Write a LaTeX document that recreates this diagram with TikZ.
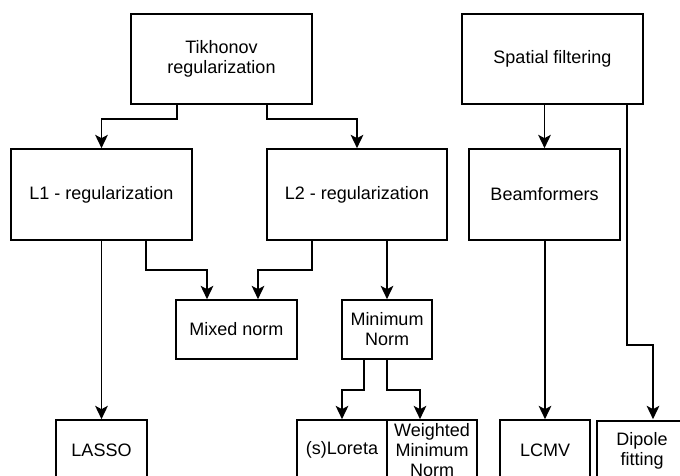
\documentclass[tikz,border=0pt]{standalone}
\usepackage{fontspec}
\setmainfont{Liberation Sans}
\usetikzlibrary{arrows.meta}
\begin{document}
\begin{tikzpicture}[x=0.75pt,y=-0.75pt,
  box/.style={draw=black,line width=1.25pt,fill=white,align=center,inner sep=0pt,
    font=\fontsize{13.5}{15}\selectfont},
  arr/.style={draw=black,line width=1.25pt,-{Stealth[length=10pt,width=9.5pt,inset=2.5pt]}}]
\useasboundingbox (0,0) rectangle (680,475);
\clip (0,0) rectangle (680,475);
% nodes
\node[box,minimum width=135.75pt,minimum height=67.5pt] (tik) at (221.5,59) {Tikhonov\\regularization};
\node[box,minimum width=135.75pt,minimum height=67.5pt] (sf) at (552.5,59) {Spatial filtering};
\node[box,minimum width=135.75pt,minimum height=68.25pt] (l1) at (101.5,194.5) {L1 - regularization};
\node[box,minimum width=135pt,minimum height=68.25pt] (l2) at (357,194.5) {L2 - regularization};
\node[box,minimum width=113.25pt,minimum height=68.25pt] (bf) at (544.5,194.5) {Beamformers};
\node[box,minimum width=90.75pt,minimum height=44.25pt] (mx) at (236.5,329.5) {Mixed norm};
\node[box,minimum width=67.5pt,minimum height=44.25pt] (mn) at (387,329.5) {Minimum\\Norm};
\node[box,minimum width=68.25pt,minimum height=45pt] (la) at (101.5,450) {LASSO};
\node[box,minimum width=67.5pt,minimum height=45pt] (sl) at (342,450) {(s)Loreta};
\node[box,minimum width=67.5pt,minimum height=45pt] (wm) at (432,450) {Weighted\\Minimum\\Norm};
\node[box,minimum width=67.5pt,minimum height=45pt] (lc) at (545,450) {LCMV};
\node[box,minimum width=67.5pt,minimum height=45pt] (dp) at (642,451) {Dipole\\fitting};
% helper coordinates
\coordinate (a1) at (177,119);
\coordinate (a2) at (267,119);
\coordinate (m1) at (146,270);
\coordinate (m2) at (207,270);
\coordinate (m3) at (312,270);
\coordinate (m4) at (258,270);
\coordinate (s1) at (364,390);
\coordinate (s2) at (420,390);
\coordinate (d1) at (627,345);
\coordinate (d2) at (653,345);
% connectors
\draw[arr] (tik.south -| a1) -- (a1) -| (l1.north);
\draw[arr] (tik.south -| a2) -- (a2) -| (l2.north);
\draw[arr] (sf.south -| bf.north) -- (bf.north);
\draw[arr] (sf.south -| d1) -- (d1) -- (d2) -- (d2 |- lc.north);
\draw[arr] (l1.south -| m1) -- (m1) -- (m2) -- (m2 |- mx.north);
\draw[arr] (l2.south -| m3) -- (m3) -- (m4) -- (m4 |- mx.north);
\draw[arr] (l1.south) -- (la.north);
\draw[arr] (l2.south -| mn.north) -- (mn.north);
\draw[arr] (mn.south -| s1) -- (s1) -| (sl.north);
\draw[arr] (mn.south) |- (s2) -- (s2 |- wm.north);
\draw[arr] (bf.south -| lc.north) -- (lc.north);
\end{tikzpicture}
\end{document}
